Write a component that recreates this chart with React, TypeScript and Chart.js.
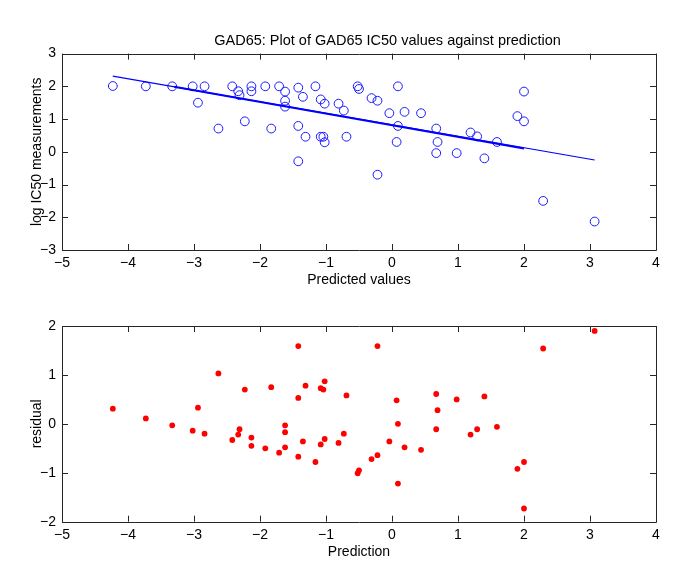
import React, { useEffect, useRef } from "react";
import { Chart, registerables } from "chart.js";

Chart.register(...registerables);

const titleText = "GAD65: Plot of GAD65 IC50 values against prediction";
const topXLabel = "Predicted values";
const topYLabel = "log IC50 measurements";
const bottomXLabel = "Prediction";
const bottomYLabel = "residual";

const predicted = [
  -4.23, -3.73, -3.33, -3.02, -2.84, -2.94, -2.63, -2.42, -2.33, -2.31, -2.23, -2.13, -2.13, -1.92,
  -1.83, -1.71, -1.62, -1.62, -1.62, -1.42, -1.35, -1.42, -1.31, -1.42, -1.16, -1.08, -1.02, -1.08,
  -1.04, -1.02, -0.81, -0.73, -0.69, -0.52, -0.5, -0.31, -0.22, -0.22, -0.04, 0.09, 0.09, 0.07,
  0.19, 0.44, 0.67, 0.69, 0.67, 0.98, 1.19, 1.29, 1.4, 1.59, 1.9, 2.0, 2.0, 2.29, 3.07,
];
const measured = [
  2.01, 2.0, 2.0, 2.0, 2.0, 1.5, 0.71, 2.0, 1.85, 1.73, 0.93, 2.0, 1.85, 2.0,
  0.71, 2.0, 1.84, 1.56, 1.38, 1.96, 1.68, 0.79, 0.46, -0.29, 2.0, 1.6, 1.47, 0.46,
  0.46, 0.29, 1.47, 1.26, 0.46, 2.0, 1.92, 1.64, 1.56, -0.7, 1.18, 2.0, 0.79, 0.3,
  1.22, 1.18, 0.71, 0.3, -0.04, -0.04, 0.59, 0.47, -0.2, 0.3, 1.09, 1.84, 0.93, -1.5, -2.13,
];
const residuals = [
  0.31, 0.11, -0.03, -0.14, -0.2, 0.33, 1.03, -0.33, -0.22, -0.11, 0.7, -0.45, -0.28, -0.5,
  0.75, -0.59, -0.48, -0.17, -0.03, -0.67, -0.36, 0.53, 0.78, 1.59, -0.78, -0.42, -0.31, 0.73,
  0.7, 0.87, -0.39, -0.2, 0.58, -1.01, -0.95, -0.72, -0.64, 1.59, -0.36, -1.22, 0.0, 0.48,
  -0.48, -0.53, -0.11, 0.28, 0.61, 0.5, -0.22, -0.11, 0.56, -0.06, -0.92, -1.73, -0.78, 1.54, 1.9,
];

const fitX = [-4.23, 3.07];
const fitY = [2.31, -0.25];
const fitThickX = [-3.3, 2.0];
const fitThickY = [1.99, 0.1];

const topXTicks = [-5, 4];
const topYTicks = [-3, 3];
const bottomYTicks = [-2, 2];

const FONT = "'Liberation Sans', Arial, Helvetica, sans-serif";

const boxPlugin = {
  id: "matlabBox",
  afterDatasetsDraw(chart: any) {
    const { ctx, chartArea } = chart;
    const { left, right, top, bottom } = chartArea;
    const L = 6;
    ctx.save();
    ctx.strokeStyle = "#262626";
    ctx.lineWidth = 1;
    ctx.beginPath();
    const xs = chart.scales.x;
    const ys = chart.scales.y;
    xs.ticks.forEach((t: any) => {
      const p = Math.round(xs.getPixelForValue(t.value)) + 0.5;
      ctx.moveTo(p, bottom);
      ctx.lineTo(p, bottom - L);
      ctx.moveTo(p, top);
      ctx.lineTo(p, top + L);
    });
    ys.ticks.forEach((t: any) => {
      const p = Math.round(ys.getPixelForValue(t.value)) + 0.5;
      ctx.moveTo(left, p);
      ctx.lineTo(left + L, p);
      ctx.moveTo(right, p);
      ctx.lineTo(right - L, p);
    });
    ctx.stroke();
    ctx.beginPath();
    ctx.rect(Math.round(left) + 0.5, Math.round(top) + 0.5, Math.round(right - left), Math.round(bottom - top));
    ctx.stroke();
    ctx.restore();
  },
};

// shift the title block so that it is centred where the reference puts it
const titleShift = {
  id: "titleShift",
  afterLayout(chart: any) {
    if (chart.titleBlock) {
      chart.titleBlock.left = 119;
    }
  },
};

const fmt = (v: any) => String(v).replace("-", "\u2212");

function makeScales(xr: number[], yr: number[], xLabel: string, yLabel: string, xHeight: number, xTitlePad: number) {
  return {
    x: {
      type: "linear",
      min: xr[0],
      max: xr[1],
      border: { display: false },
      grid: { display: false, drawTicks: false },
      ticks: {
        stepSize: 1,
        padding: 5,
        color: "#000",
        font: { family: FONT, size: 14 },
        callback: fmt,
      },
      title: {
        display: true,
        text: xLabel,
        color: "#000",
        font: { family: FONT, size: 14 },
        padding: { top: 0, bottom: xTitlePad },
      },
      afterFit: (s: any) => {
        s.height = xHeight;
      },
    },
    y: {
      type: "linear",
      min: yr[0],
      max: yr[1],
      border: { display: false },
      grid: { display: false, drawTicks: false },
      ticks: {
        stepSize: 1,
        padding: 6,
        color: "#000",
        font: { family: FONT, size: 14 },
        callback: fmt,
      },
      title: {
        display: true,
        text: yLabel,
        color: "#000",
        font: { family: FONT, size: 14 },
        padding: { top: 29, bottom: 0 },
      },
      afterFit: (s: any) => {
        s.width = 62;
      },
    },
  };
}

export default function App() {
  const topRef = useRef<HTMLCanvasElement>(null);
  const botRef = useRef<HTMLCanvasElement>(null);

  useEffect(() => {
    const scatterTop = predicted.map((x, i) => ({ x, y: measured[i] }));
    const scatterBot = predicted.map((x, i) => ({ x, y: residuals[i] }));
    const fit = fitX.map((x, i) => ({ x, y: fitY[i] }));
    const fitThick = fitThickX.map((x, i) => ({ x, y: fitThickY[i] }));

    const c1 = new Chart(topRef.current as HTMLCanvasElement, {
      type: "scatter",
      data: {
        datasets: [
          {
            type: "line",
            data: fit,
            borderColor: "#0000ff",
            borderWidth: 1.2,
            pointRadius: 0,
            showLine: true,
            fill: false,
          } as any,
          {
            type: "line",
            data: fitThick,
            borderColor: "#0000ff",
            borderWidth: 2,
            pointRadius: 0,
            showLine: true,
            fill: false,
          } as any,
          {
            data: scatterTop,
            pointRadius: 4.4,
            pointBorderWidth: 1,
            pointBackgroundColor: "rgba(0,0,0,0)",
            pointBorderColor: "#1a1aff",
            borderColor: "#1a1aff",
            backgroundColor: "rgba(0,0,0,0)",
          },
        ],
      },
      options: {
        responsive: false,
        animation: false,
        devicePixelRatio: 1,
        layout: { padding: { left: 0, right: 29, top: 0, bottom: 0 } },
        plugins: {
          legend: { display: false },
          tooltip: { enabled: false },
          title: {
            display: true,
            text: titleText,
            color: "#000",
            font: { family: FONT, size: 14.5, weight: "normal" },
            padding: { top: 32.5, bottom: 3.7 },
          },
        },
        scales: makeScales(topXTicks, topYTicks, topXLabel, topYLabel, 50, 11.6) as any,
      },
      plugins: [boxPlugin, titleShift],
    });

    const c2 = new Chart(botRef.current as HTMLCanvasElement, {
      type: "scatter",
      data: {
        datasets: [
          {
            data: scatterBot,
            pointRadius: 2.9,
            pointBorderWidth: 0,
            pointBackgroundColor: "#ff0000",
            backgroundColor: "#ff0000",
            borderColor: "#ff0000",
          },
        ],
      },
      options: {
        responsive: false,
        animation: false,
        devicePixelRatio: 1,
        layout: { padding: { left: 0, right: 29, top: 26, bottom: 0 } },
        plugins: {
          legend: { display: false },
          tooltip: { enabled: false },
        },
        scales: makeScales(topXTicks, bottomYTicks, bottomXLabel, bottomYLabel, 60.3, 21.6) as any,
      },
      plugins: [boxPlugin],
    });

    return () => {
      c1.destroy();
      c2.destroy();
    };
  }, []);

  return (
    <div style={{ position: "absolute", left: 0, top: 0, width: 685, height: 582, background: "#fff" }}>
      <canvas ref={topRef} width={685} height={300} style={{ position: "absolute", left: 0, top: 0 }} />
      <canvas ref={botRef} width={685} height={282} style={{ position: "absolute", left: 0, top: 300 }} />
    </div>
  );
}
